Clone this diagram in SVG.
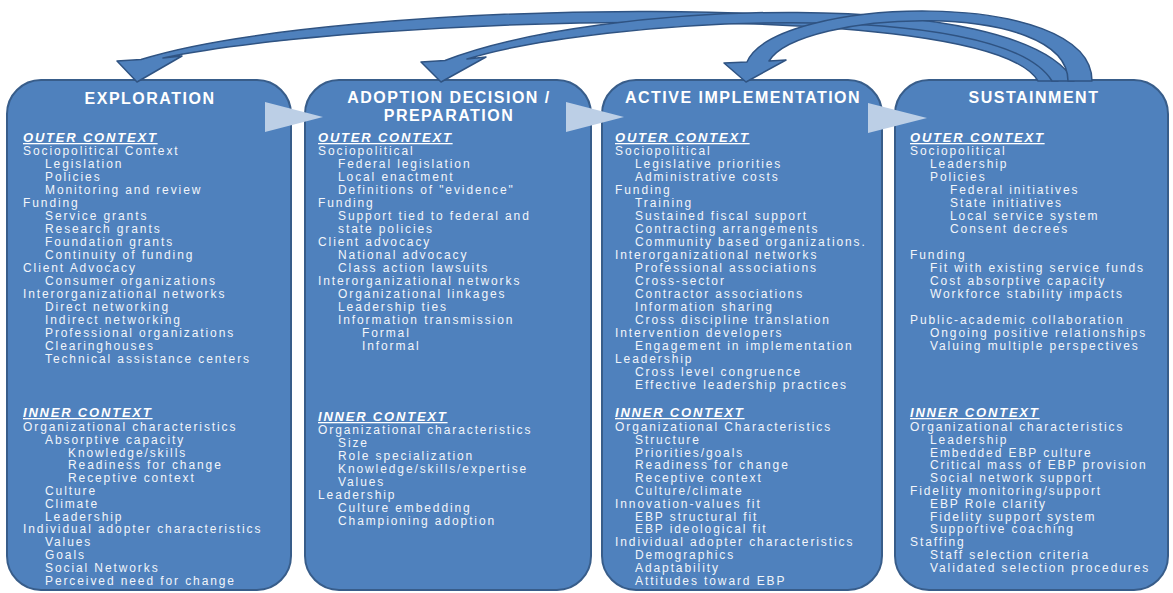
<svg xmlns="http://www.w3.org/2000/svg" width="1173" height="593" viewBox="0 0 1173 593">
<style>
.box{fill:#4f81bd;stroke:#385d8a;stroke-width:2}
.tri{fill:#bccfe6}
.arr{fill:#4f81bd;stroke:#2f5382;stroke-width:1.5;stroke-linejoin:round}
text{font-family:"Liberation Sans",Arial,sans-serif}
.h{font-weight:bold;font-size:16px;fill:#ffffff;letter-spacing:1.5px;text-anchor:middle}
.c{font-weight:bold;font-style:italic;font-size:13px;text-decoration:underline;letter-spacing:1.8px;fill:#ffffff}
.t{font-size:12px;letter-spacing:1.9px;fill:#f2f5fa}
</style>
<rect width="1173" height="593" fill="#ffffff"/>

<g id="exploration">
<rect class="box" x="7" y="80" width="284" height="510" rx="34" ry="34"/>
<text class="h" x="150" y="104">EXPLORATION</text>
<text class="c" x="23" y="142">OUTER CONTEXT</text>
<text class="t" x="23" y="155">Sociopolitical Context</text>
<text class="t" x="45" y="168">Legislation</text>
<text class="t" x="45" y="181">Policies</text>
<text class="t" x="45" y="194">Monitoring and review</text>
<text class="t" x="23" y="207">Funding</text>
<text class="t" x="45" y="220">Service grants</text>
<text class="t" x="45" y="233">Research grants</text>
<text class="t" x="45" y="246">Foundation grants</text>
<text class="t" x="45" y="259">Continuity of funding</text>
<text class="t" x="23" y="272">Client Advocacy</text>
<text class="t" x="45" y="285">Consumer organizations</text>
<text class="t" x="23" y="298">Interorganizational networks</text>
<text class="t" x="45" y="311">Direct networking</text>
<text class="t" x="45" y="324">Indirect networking</text>
<text class="t" x="45" y="337">Professional organizations</text>
<text class="t" x="45" y="350">Clearinghouses</text>
<text class="t" x="45" y="363">Technical assistance centers</text>
<text class="c" x="23" y="417">INNER CONTEXT</text>
<text class="t" x="23" y="431">Organizational characteristics</text>
<text class="t" x="45" y="443.8">Absorptive capacity</text>
<text class="t" x="68" y="456.6">Knowledge/skills</text>
<text class="t" x="68" y="469.4">Readiness for change</text>
<text class="t" x="68" y="482.2">Receptive context</text>
<text class="t" x="45" y="495">Culture</text>
<text class="t" x="45" y="507.8">Climate</text>
<text class="t" x="45" y="520.6">Leadership</text>
<text class="t" x="23" y="533.4">Individual adopter characteristics</text>
<text class="t" x="45" y="546.2">Values</text>
<text class="t" x="45" y="559">Goals</text>
<text class="t" x="45" y="571.8">Social Networks</text>
<text class="t" x="45" y="584.6">Perceived need for change</text>
</g>

<g id="adoption">
<rect class="box" x="305" y="80" width="286" height="510" rx="34" ry="34"/>
<text class="h" x="449" y="103">ADOPTION DECISION /</text>
<text class="h" x="449" y="121">PREPARATION</text>
<text class="c" x="318" y="142">OUTER CONTEXT</text>
<text class="t" x="318" y="155">Sociopolitical</text>
<text class="t" x="338" y="168">Federal legislation</text>
<text class="t" x="338" y="181">Local enactment</text>
<text class="t" x="338" y="194">Definitions of "evidence"</text>
<text class="t" x="318" y="207">Funding</text>
<text class="t" x="338" y="220">Support tied to federal and</text>
<text class="t" x="338" y="233">state policies</text>
<text class="t" x="318" y="246">Client advocacy</text>
<text class="t" x="338" y="259">National advocacy</text>
<text class="t" x="338" y="272">Class action lawsuits</text>
<text class="t" x="318" y="285">Interorganizational networks</text>
<text class="t" x="338" y="298">Organizational linkages</text>
<text class="t" x="338" y="311">Leadership ties</text>
<text class="t" x="338" y="324">Information transmission</text>
<text class="t" x="362" y="337">Formal</text>
<text class="t" x="362" y="350">Informal</text>
<text class="c" x="318" y="421">INNER CONTEXT</text>
<text class="t" x="318" y="434">Organizational characteristics</text>
<text class="t" x="338" y="447">Size</text>
<text class="t" x="338" y="460">Role specialization</text>
<text class="t" x="338" y="473">Knowledge/skills/expertise</text>
<text class="t" x="338" y="486">Values</text>
<text class="t" x="318" y="499">Leadership</text>
<text class="t" x="338" y="512">Culture embedding</text>
<text class="t" x="338" y="525">Championing adoption</text>
</g>

<g id="active-implementation">
<rect class="box" x="602" y="80" width="280" height="510" rx="34" ry="34"/>
<text class="h" x="743" y="103">ACTIVE IMPLEMENTATION</text>
<text class="c" x="615" y="142">OUTER CONTEXT</text>
<text class="t" x="615" y="155">Sociopolitical</text>
<text class="t" x="635" y="168">Legislative priorities</text>
<text class="t" x="635" y="181">Administrative costs</text>
<text class="t" x="615" y="194">Funding</text>
<text class="t" x="635" y="207">Training</text>
<text class="t" x="635" y="220">Sustained fiscal support</text>
<text class="t" x="635" y="233">Contracting arrangements</text>
<text class="t" x="635" y="246">Community based organizations.</text>
<text class="t" x="615" y="259">Interorganizational networks</text>
<text class="t" x="635" y="272">Professional associations</text>
<text class="t" x="635" y="285">Cross-sector</text>
<text class="t" x="635" y="298">Contractor associations</text>
<text class="t" x="635" y="311">Information sharing</text>
<text class="t" x="635" y="324">Cross discipline translation</text>
<text class="t" x="615" y="337">Intervention developers</text>
<text class="t" x="635" y="350">Engagement in implementation</text>
<text class="t" x="615" y="363">Leadership</text>
<text class="t" x="635" y="376">Cross level congruence</text>
<text class="t" x="635" y="389">Effective leadership practices</text>
<text class="c" x="615" y="417">INNER CONTEXT</text>
<text class="t" x="615" y="431">Organizational Characteristics</text>
<text class="t" x="635" y="443.8">Structure</text>
<text class="t" x="635" y="456.6">Priorities/goals</text>
<text class="t" x="635" y="469.4">Readiness for change</text>
<text class="t" x="635" y="482.2">Receptive context</text>
<text class="t" x="635" y="495">Culture/climate</text>
<text class="t" x="615" y="507.8">Innovation-values fit</text>
<text class="t" x="635" y="520.6">EBP structural fit</text>
<text class="t" x="635" y="533.4">EBP ideological fit</text>
<text class="t" x="615" y="546.2">Individual adopter characteristics</text>
<text class="t" x="635" y="559">Demographics</text>
<text class="t" x="635" y="571.8">Adaptability</text>
<text class="t" x="635" y="584.6">Attitudes toward EBP</text>
</g>

<g id="sustainment">
<rect class="box" x="895" y="80" width="273" height="510" rx="34" ry="34"/>
<text class="h" x="1034" y="103">SUSTAINMENT</text>
<text class="c" x="910" y="142">OUTER CONTEXT</text>
<text class="t" x="910" y="155">Sociopolitical</text>
<text class="t" x="930" y="168">Leadership</text>
<text class="t" x="930" y="181">Policies</text>
<text class="t" x="950" y="194">Federal initiatives</text>
<text class="t" x="950" y="207">State initiatives</text>
<text class="t" x="950" y="220">Local service system</text>
<text class="t" x="950" y="233">Consent decrees</text>
<text class="t" x="910" y="259">Funding</text>
<text class="t" x="930" y="272">Fit with existing service funds</text>
<text class="t" x="930" y="285">Cost absorptive capacity</text>
<text class="t" x="930" y="298">Workforce stability impacts</text>
<text class="t" x="910" y="324">Public-academic collaboration</text>
<text class="t" x="930" y="337">Ongoing positive relationships</text>
<text class="t" x="930" y="350">Valuing multiple perspectives</text>
<text class="c" x="910" y="417">INNER CONTEXT</text>
<text class="t" x="910" y="431">Organizational characteristics</text>
<text class="t" x="930" y="443.8">Leadership</text>
<text class="t" x="930" y="456.6">Embedded EBP culture</text>
<text class="t" x="930" y="469.4">Critical mass of EBP provision</text>
<text class="t" x="930" y="482.2">Social network support</text>
<text class="t" x="910" y="495">Fidelity monitoring/support</text>
<text class="t" x="930" y="507.8">EBP Role clarity</text>
<text class="t" x="930" y="520.6">Fidelity support system</text>
<text class="t" x="930" y="533.4">Supportive coaching</text>
<text class="t" x="910" y="546.2">Staffing</text>
<text class="t" x="930" y="559">Staff selection criteria</text>
<text class="t" x="930" y="571.8">Validated selection procedures</text>
</g>

<g id="connectors">
<polygon class="tri" points="265,102 265,132 323,117"/>
<polygon class="tri" points="566,102 566,132 624,117"/>
<polygon class="tri" points="868,103 868,133 927,118"/>
<path class="arr" d="M141,59.5 C330,0 1005,-16 1058,81 L1038,81 C988,-4 360,17 163,58 L182,56 L137,82 L117,61 Z"/>
<path class="arr" d="M445,60.5 C600,0 1020,-14 1074,81 L1052,81 C1000,-4 600,18 467,59 L486,57 L441,82 L421,62 Z"/>
<path class="arr" d="M747,62 C775,-4 1092,-14 1092,81 L1068,81 C1068,-2 800,10 769,61 L786,60 L746,82 L724,63 Z"/>
</g>
</svg>
